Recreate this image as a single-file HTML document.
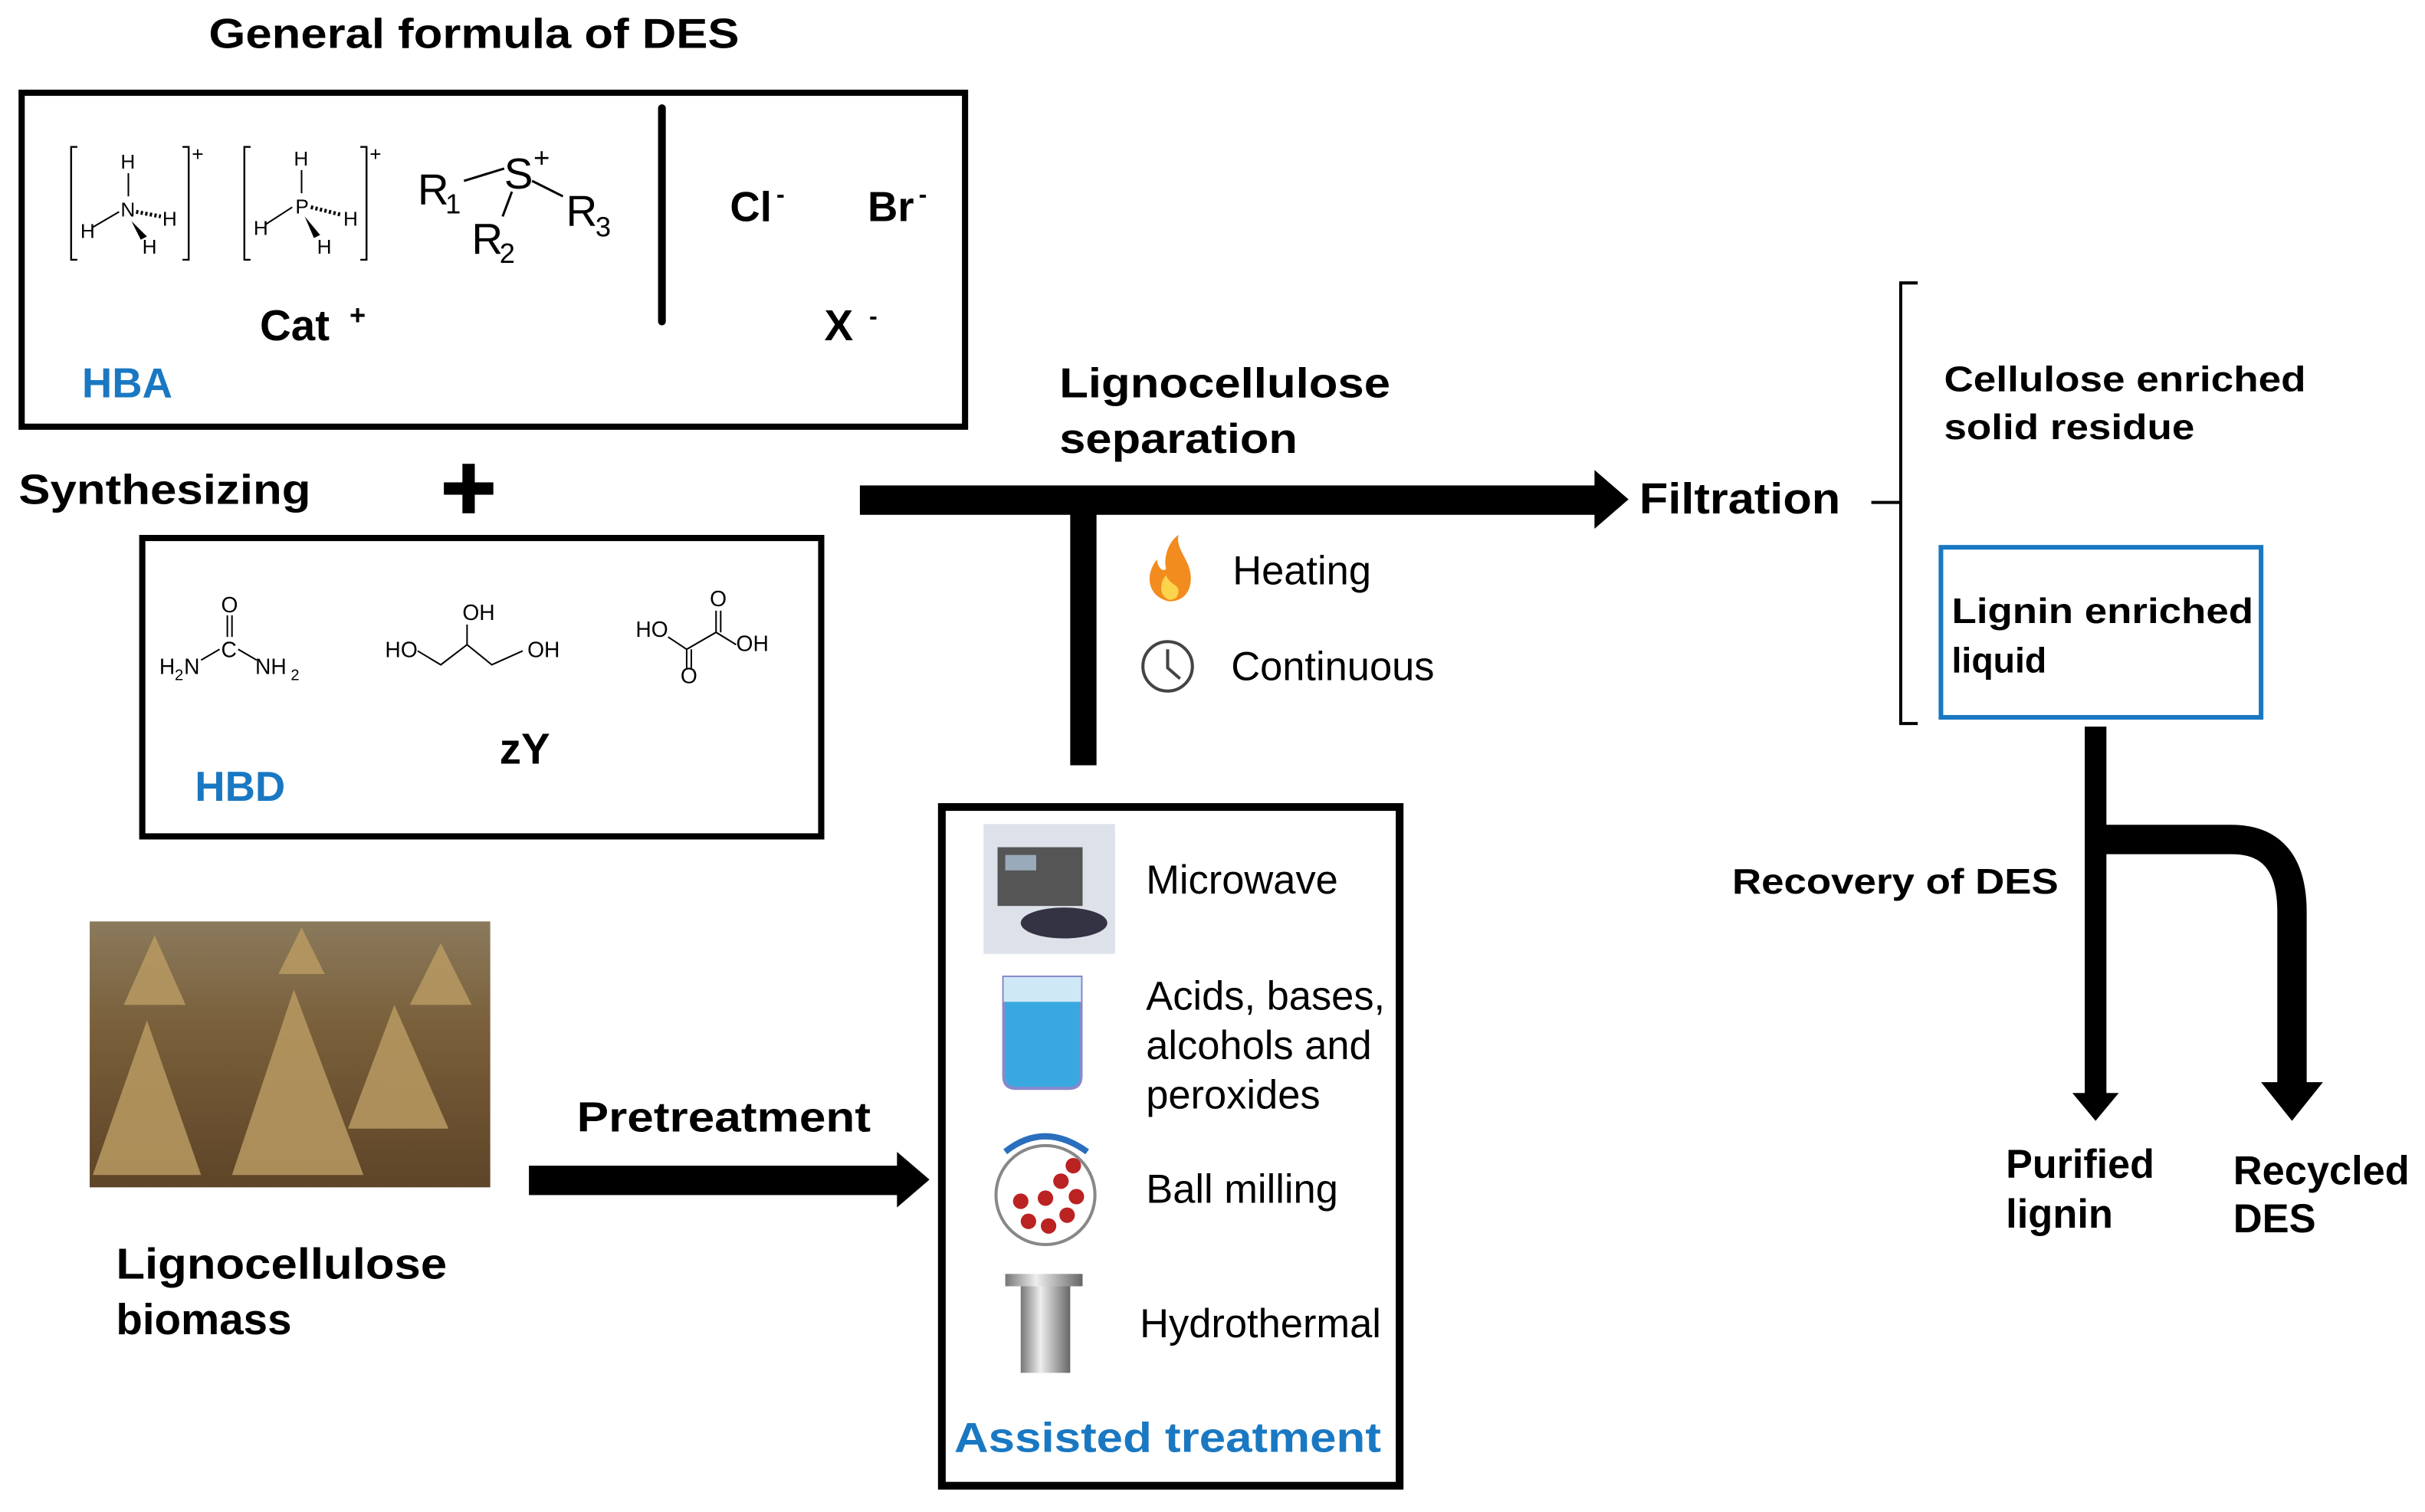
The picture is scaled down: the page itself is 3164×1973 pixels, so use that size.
<!DOCTYPE html>
<html><head><meta charset="utf-8"><style>
html,body{margin:0;padding:0;background:#fff;width:3164px;height:1973px;overflow:hidden}
svg{display:block}
text{font-family:"Liberation Sans",Arial,sans-serif}
.b{font-weight:bold}
</style></head><body>
<svg width="3164" height="1973" viewBox="0 0 1568 978" preserveAspectRatio="none" xmlns="http://www.w3.org/2000/svg">
<defs>
<linearGradient id="straw" x1="0" y1="0" x2="0" y2="1">
<stop offset="0" stop-color="#8a7a5c"/><stop offset="0.4" stop-color="#7a5f3a"/><stop offset="1" stop-color="#5e4528"/></linearGradient>
<linearGradient id="steel" x1="0" y1="0" x2="1" y2="0">
<stop offset="0" stop-color="#777"/><stop offset="0.4" stop-color="#eee"/><stop offset="1" stop-color="#666"/></linearGradient>
</defs>
<text x="135" y="31" class="b" font-size="27" textLength="343" lengthAdjust="spacingAndGlyphs">General formula of DES</text>
<rect x="14" y="60" width="610" height="216" fill="none" stroke="#000" stroke-width="4"/>
<g font-size="13" fill="#000" stroke="none">
<path d="M50 95 h-4 v73 h4 M118 95 h4 v73 h-4" fill="none" stroke="#000" stroke-width="1.2"/>
<text x="124" y="104">+</text>
<text x="78" y="109">H</text><text x="78" y="140">N</text><text x="52" y="154">H</text><text x="105" y="146">H</text><text x="92" y="164">H</text>
<line x1="83" y1="112" x2="83" y2="127" stroke="#000"/><line x1="60" y1="147" x2="77" y2="137" stroke="#000"/>
<line x1="88" y1="137" x2="104" y2="140" stroke="#000" stroke-dasharray="1.5 1.5" stroke-width="2.5"/>
<path d="M85 143 L95 153 L91 155 Z"/>
<path d="M162 95 h-4 v73 h4 M233 95 h4 v73 h-4" fill="none" stroke="#000" stroke-width="1.2"/>
<text x="239" y="104">+</text>
<text x="190" y="107">H</text><text x="191" y="138">P</text><text x="164" y="152">H</text><text x="222" y="146">H</text><text x="205" y="164">H</text>
<line x1="195" y1="110" x2="195" y2="125" stroke="#000"/><line x1="172" y1="145" x2="189" y2="134" stroke="#000"/>
<line x1="201" y1="134" x2="221" y2="139" stroke="#000" stroke-dasharray="1.5 1.5" stroke-width="2.5"/>
<path d="M197 140 L207 152 L203 154 Z"/>
</g>
<g font-size="28" fill="#000">
<text x="270" y="132">R</text><text x="288" y="138" font-size="18">1</text>
<text x="326" y="122">S</text><text x="345" y="108" font-size="18">+</text>
<text x="366" y="146">R</text><text x="385" y="153" font-size="18">3</text>
<text x="305" y="164">R</text><text x="323" y="170" font-size="18">2</text>
<line x1="300" y1="117" x2="326" y2="109" stroke="#000" stroke-width="1.5"/>
<line x1="344" y1="117" x2="364" y2="127" stroke="#000" stroke-width="1.5"/>
<line x1="331" y1="124" x2="325" y2="140" stroke="#000" stroke-width="1.5"/>
</g>
<line x1="428" y1="70" x2="428" y2="208" stroke="#000" stroke-width="5" stroke-linecap="round"/>
<text x="472" y="143" class="b" font-size="27">Cl</text><text x="502" y="131" class="b" font-size="16">-</text>
<text x="561" y="143" class="b" font-size="27">Br</text><text x="594" y="131" class="b" font-size="16">-</text>
<text x="168" y="220" class="b" font-size="28">Cat</text><text x="226" y="210" class="b" font-size="18">+</text>
<text x="533" y="220" class="b" font-size="28">X</text><text x="562" y="210" class="b" font-size="16">-</text>
<text x="53" y="257" class="b" font-size="27" fill="#1a78c2">HBA</text>
<text x="12" y="326" class="b" font-size="27" textLength="189" lengthAdjust="spacingAndGlyphs">Synthesizing</text>
<rect x="287" y="312" width="32" height="8" fill="#000"/><rect x="299" y="300" width="8" height="32" fill="#000"/>
<rect x="92" y="348" width="439" height="193" fill="none" stroke="#000" stroke-width="4"/>
<g font-size="14" fill="#000">
<text x="143" y="396">O</text><line x1="147" y1="398" x2="147" y2="412" stroke="#000"/><line x1="150" y1="398" x2="150" y2="412" stroke="#000"/>
<text x="143" y="425">C</text><text x="103" y="436">H</text><text x="113" y="440" font-size="10">2</text><text x="119" y="436">N</text>
<text x="165" y="436">NH</text><text x="188" y="440" font-size="10">2</text>
<line x1="130" y1="427" x2="142" y2="420" stroke="#000"/><line x1="154" y1="420" x2="166" y2="427" stroke="#000"/>
<text x="299" y="401">OH</text><text x="249" y="425">HO</text><text x="341" y="425">OH</text>
<path d="M270 421 L285 430 L302 417 L318 430 L338 421 M302 417 V404" fill="none" stroke="#000"/>
<text x="459" y="392">O</text><text x="411" y="412">HO</text><text x="476" y="421">OH</text><text x="440" y="442">O</text>
<path d="M432 412 L444 420 L463 409 L476 417 M444 420 V432 M463 409 V395 M466 409 V395 M447 420 V432" fill="none" stroke="#000"/>
</g>
<text x="323" y="494" class="b" font-size="28">zY</text>
<text x="126" y="518" class="b" font-size="27" fill="#1a78c2">HBD</text>
<rect x="58" y="596" width="259" height="172" fill="url(#straw)"/>
<g fill="#b89a62" opacity="0.85">
<path d="M60 760 L95 660 L130 760 Z"/><path d="M150 760 L190 640 L235 760 Z"/><path d="M225 730 L255 650 L290 730 Z"/>
<path d="M80 650 L100 605 L120 650 Z"/><path d="M265 650 L285 610 L305 650 Z"/><path d="M180 630 L195 600 L210 630 Z"/>
</g>
<text x="75" y="827" class="b" font-size="28" textLength="214" lengthAdjust="spacingAndGlyphs">Lignocellulose</text>
<text x="75" y="863" class="b" font-size="28">biomass</text>
<text x="373" y="732" class="b" font-size="27" textLength="190" lengthAdjust="spacingAndGlyphs">Pretreatment</text>
<rect x="342" y="754" width="240" height="19" fill="#000"/>
<path d="M580 745 L601 763 L580 781 Z" fill="#000"/>
<rect x="609" y="522" width="296" height="439" fill="none" stroke="#000" stroke-width="5"/>
<rect x="636" y="533" width="85" height="84" fill="#dde2ea"/>
<rect x="645" y="548" width="55" height="38" fill="#555"/><rect x="650" y="553" width="20" height="10" fill="#9ab"/>
<ellipse cx="688" cy="597" rx="28" ry="10" fill="#334"/>
<path d="M649 632 h50 v64 q0 8 -8 8 h-34 q-8 0 -8 -8 Z" fill="#3aa8e0" stroke="#88c" stroke-width="2"/>
<rect x="649" y="632" width="50" height="16" fill="#cfe8f5"/>
<circle cx="676" cy="773" r="32" fill="#fff" stroke="#888" stroke-width="2"/>
<g fill="#b22">
<circle cx="665" cy="790" r="5"/><circle cx="678" cy="793" r="5"/><circle cx="690" cy="786" r="5"/><circle cx="696" cy="774" r="5"/>
<circle cx="686" cy="764" r="5"/><circle cx="676" cy="775" r="5"/><circle cx="694" cy="754" r="5"/><circle cx="660" cy="777" r="5"/>
</g>
<path d="M650 745 Q675 725 703 745" fill="none" stroke="#2a6fbd" stroke-width="4"/>
<rect x="650" y="824" width="50" height="8" fill="url(#steel)"/>
<rect x="660" y="832" width="32" height="56" fill="url(#steel)"/>
<text x="741" y="578" font-size="26">Microwave</text>
<text x="741" y="653" font-size="26">Acids, bases,</text>
<text x="741" y="685" font-size="26">alcohols and</text>
<text x="741" y="717" font-size="26">peroxides</text>
<text x="741" y="778" font-size="26">Ball milling</text>
<text x="737" y="865" font-size="26">Hydrothermal</text>
<text x="617" y="939" class="b" font-size="27" fill="#1a78c2" textLength="276" lengthAdjust="spacingAndGlyphs">Assisted treatment</text>
<rect x="556" y="314" width="477" height="19" fill="#000"/>
<path d="M1031 304 L1053 323 L1031 342 Z" fill="#000"/>
<rect x="692" y="323" width="17" height="172" fill="#000"/>
<text x="685" y="257" class="b" font-size="27" textLength="214" lengthAdjust="spacingAndGlyphs">Lignocellulose</text>
<text x="685" y="293" class="b" font-size="27" textLength="154" lengthAdjust="spacingAndGlyphs">separation</text>
<path d="M756 389 C742 386 740 372 748 362 C749 368 752 370 754 368 C752 360 756 350 762 346 C760 356 770 362 770 374 C770 384 764 389 756 389 Z" fill="#f28c1e"/>
<path d="M756 388 C750 386 749 378 754 372 C756 378 762 378 762 382 C762 386 760 388 756 388 Z" fill="#fcd34d"/>
<text x="797" y="378" font-size="26">Heating</text>
<circle cx="755" cy="431" r="16" fill="none" stroke="#444" stroke-width="2"/>
<path d="M755 420 V432 L763 439" fill="none" stroke="#444" stroke-width="2"/>
<text x="796" y="440" font-size="26">Continuous</text>
<text x="1060" y="332" class="b" font-size="28" textLength="130" lengthAdjust="spacingAndGlyphs">Filtration</text>
<path d="M1240 183 H1229 V468 H1240 M1210 325 H1229" fill="none" stroke="#000" stroke-width="2"/>
<text x="1257" y="253" class="b" font-size="23" textLength="234" lengthAdjust="spacingAndGlyphs">Cellulose enriched</text>
<text x="1257" y="284" class="b" font-size="23" textLength="162" lengthAdjust="spacingAndGlyphs">solid residue</text>
<rect x="1255" y="354" width="207" height="110" fill="none" stroke="#1a78c2" stroke-width="3"/>
<text x="1262" y="403" class="b" font-size="23" textLength="195" lengthAdjust="spacingAndGlyphs">Lignin enriched</text>
<text x="1262" y="435" class="b" font-size="23">liquid</text>
<rect x="1348" y="470" width="14" height="240" fill="#000"/>
<path d="M1340 707 L1355 725 L1370 707 Z" fill="#000"/>
<path d="M1355 543 H1443 Q1482 543 1482 590 V705" fill="none" stroke="#000" stroke-width="19"/>
<path d="M1462 700 L1482 725 L1502 700 Z" fill="#000"/>
<text x="1120" y="578" class="b" font-size="23" textLength="211" lengthAdjust="spacingAndGlyphs">Recovery of DES</text>
<text x="1297" y="762" class="b" font-size="26" textLength="96" lengthAdjust="spacingAndGlyphs">Purified</text>
<text x="1297" y="794" class="b" font-size="26">lignin</text>
<text x="1444" y="766" class="b" font-size="26" textLength="114" lengthAdjust="spacingAndGlyphs">Recycled</text>
<text x="1444" y="797" class="b" font-size="26">DES</text>
</svg>
</body></html>
